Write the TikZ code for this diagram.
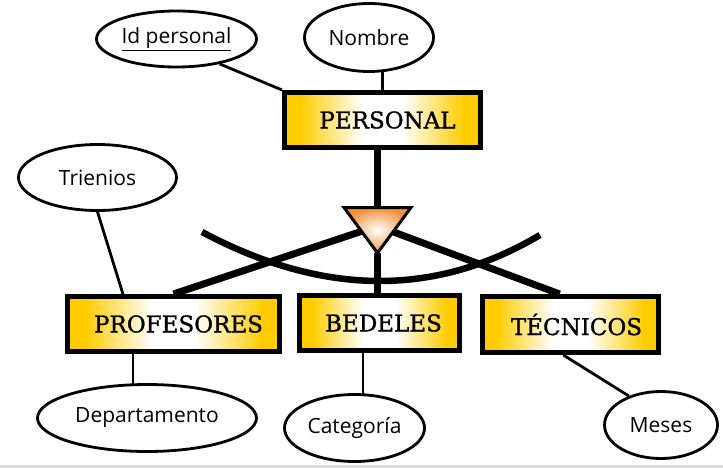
\documentclass[tikz,border=0pt]{standalone}
\usepackage{fontspec}
\newfontfamily\attrfont{Open Sans}
\newfontfamily\entfont[FakeBold=1.2]{DejaVu Serif}
\usetikzlibrary{calc,shapes.geometric}
\pgfdeclarelayer{bg}
\pgfsetlayers{bg,main}
\definecolor{gold}{RGB}{255,204,0}
\definecolor{triorange}{RGB}{243,146,60}
\definecolor{grayline}{RGB}{222,222,222}
\pgfdeclarehorizontalshading{entshade}{100bp}{color(0bp)=(gold); color(29bp)=(gold); color(45bp)=(white); color(55bp)=(white); color(71bp)=(gold); color(100bp)=(gold)}
\begin{document}
\begin{tikzpicture}[x=1pt,y=-1pt,
  entity/.style={draw=black, line width=5pt, shade, shading=entshade,
    inner sep=0pt, minimum height=55pt, font=\entfont\fontsize{23}{23}\selectfont},
  attr/.style={draw=black, ellipse, line width=2.8pt, fill=white, inner sep=0pt,
    font=\attrfont\fontsize{21}{21}\selectfont},
  thinline/.style={line width=2.8pt},
  thickline/.style={line width=7pt},
]
\useasboundingbox (0,0) rectangle (723,468);
\fill[grayline] (0,465) rectangle (723,468);

% entities
\node[entity, minimum width=196pt] (pers) at (382.5,120) {\kern10pt PERSONAL};
\node[entity, minimum width=212pt] (prof) at (173.5,324) {\kern10pt PROFESORES};
\node[entity, minimum width=160pt] (bed) at (379.5,323) {\kern8pt BEDELES};
\node[entity, minimum width=176pt, minimum height=56pt] (tec) at (570.5,324.5) {\kern12pt TÉCNICOS};

% attributes
\node[attr, minimum width=160pt, minimum height=56pt] (idp) at (176.5,39) {\underline{Id personal}};
\node[attr, minimum width=129pt, minimum height=68pt] (nom) at (369,37.5) {Nombre};
\node[attr, minimum width=158pt, minimum height=66pt] (trie) at (97.5,177.5) {Trienios};
\node[attr, minimum width=219pt, minimum height=67pt] (dep) at (147,418) {Departamento};
\node[attr, minimum width=140pt, minimum height=67pt] (cat) at (354.5,428) {Categoría};
\node[attr, minimum width=113pt, minimum height=67pt] (mes) at (661,425) {Meses};

% triangle (specialization)
\coordinate (tl) at (344,207.5);
\coordinate (tr) at (411,207.5);
\coordinate (ta) at (377.5,253);
\coordinate (tt) at (377.5,207.5);
\coordinate (tc) at (377.5,226);
\shadedraw[line width=3pt, line join=miter, inner color=white, outer color=triorange]
  (tl) -- (tr) -- (ta) -- cycle;

\coordinate (tecn) at ($(tec.north west)!0.44!(tec.north east)$);
\coordinate (trp) at ($(prof.north west)!0.267!(prof.north east)$);
\coordinate (pd) at ($(prof.south west)!0.313!(prof.south east)$);
\coordinate (bc) at ($(bed.south west)!0.4!(bed.south east)$);
\coordinate (tm) at ($(tec.south west)!0.46!(tec.south east)$);

\begin{pgfonlayer}{bg}
  % thick specialization lines
  \draw[thickline] (pers.south -| tt) -- (tt);
  \draw[thickline] (tc) -- (prof.north);
  \draw[thickline] (tc) -- (tecn);
  \draw[thickline] (ta) -- (ta |- bed.north);
  % arc
  \draw[line width=6.5pt] (202,232) .. controls (322.7,296.3) and (435.3,297.3) .. (540,235);
  % attribute connectors
  \draw[thinline] (idp.-30) -- (pers.north west);
  \draw[thinline] (pers.north) -- (pers.north |- nom.center);
  \draw[thinline] (trie.south) -- (trp);
  \draw[thinline] (pd) -- (pd |- dep.center);
  \draw[thinline] (bc) -- (bc |- cat.center);
  \draw[thinline] (tm) -- (mes.138);
\end{pgfonlayer}
\end{tikzpicture}
\end{document}
